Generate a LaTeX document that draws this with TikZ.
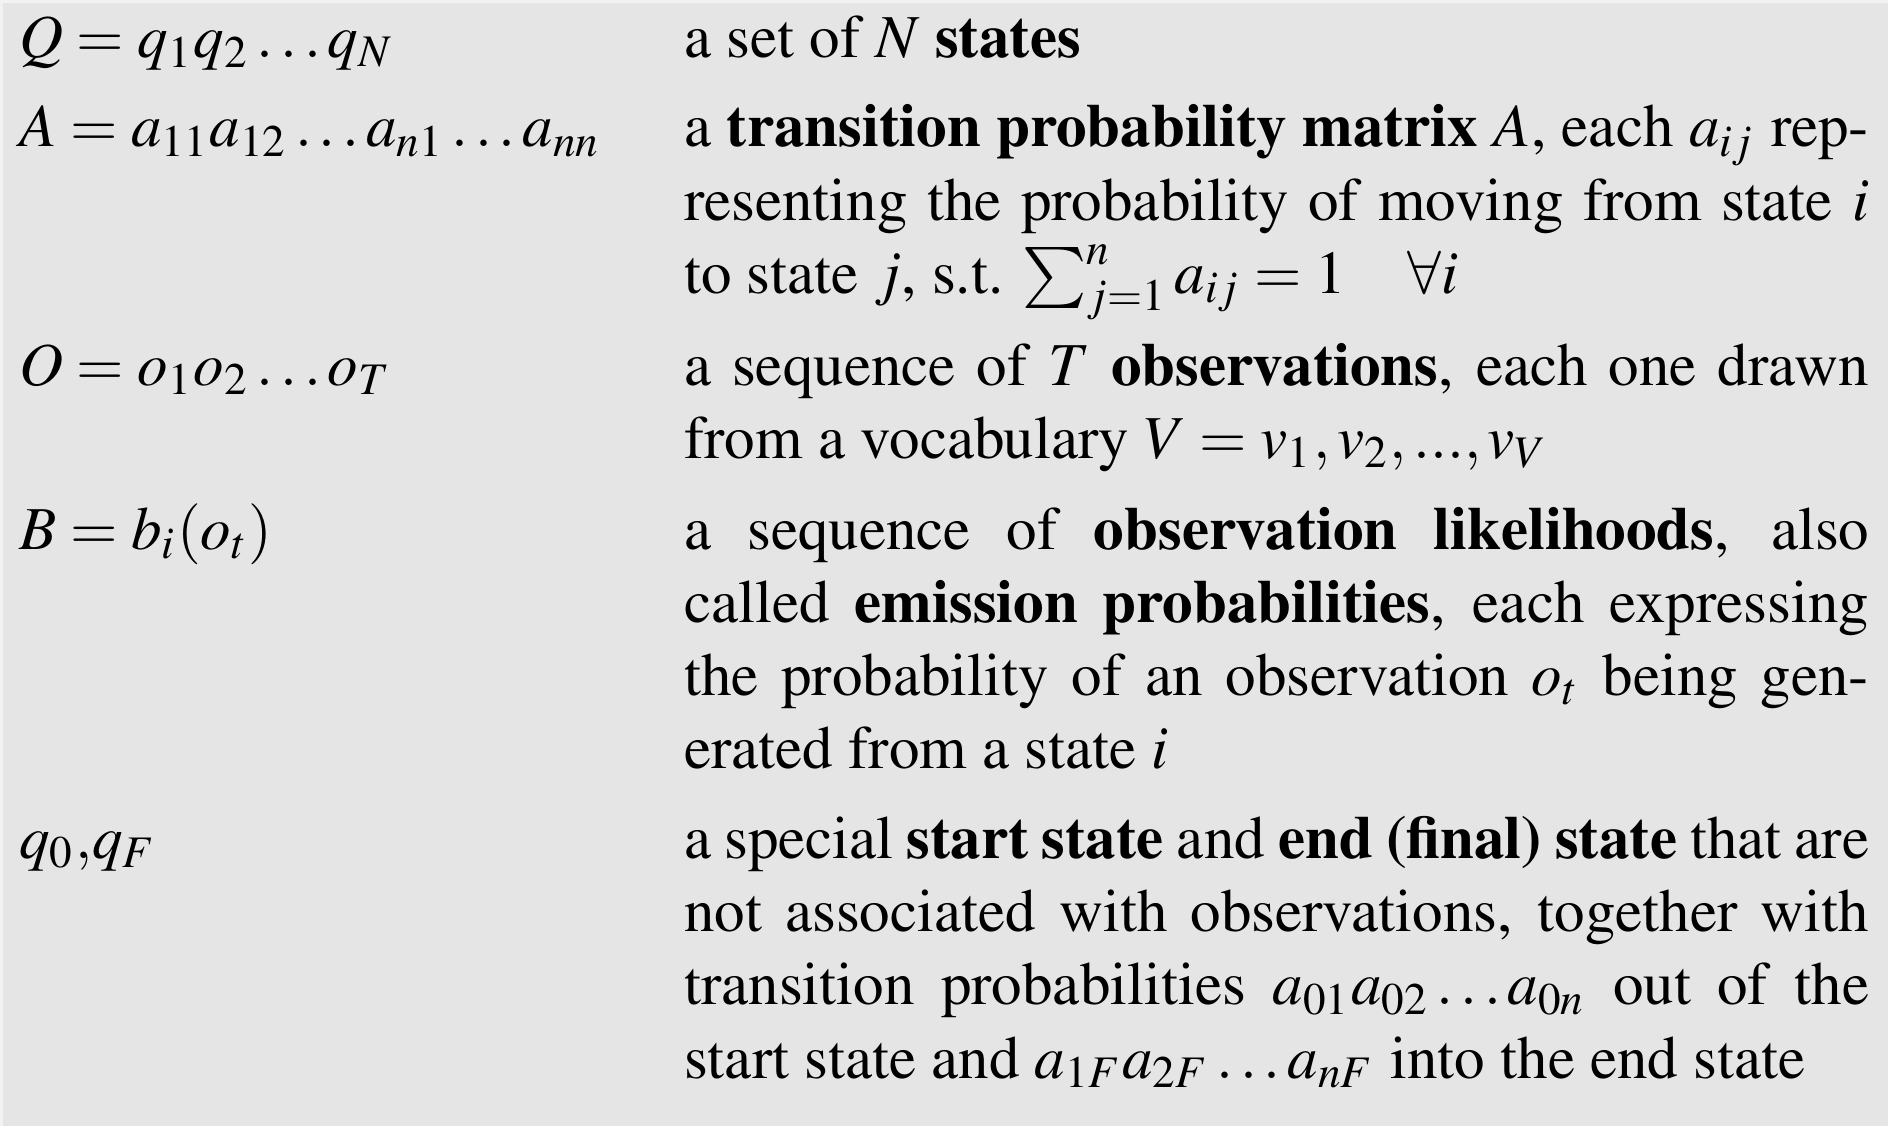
\documentclass[tikz,border=0pt]{standalone}
\usepackage[T1]{fontenc}
\usepackage{mathptmx}
\usepackage{tikz}
\DeclareSymbolFont{cmlargesymbols}{OMX}{cmex}{m}{n}
\DeclareMathSymbol{\cmsum}{\mathop}{cmlargesymbols}{"50}
\definecolor{bggray}{RGB}{229,229,229}
\definecolor{edgegray}{RGB}{242,242,242}
\newlength\descwd
\setlength{\descwd}{194.26pt}
% font spaces (stretchable) instead of the fixed ones of align
\newcommand{\fontspaces}{\spaceskip=0pt\xspaceskip=0pt\relax}
\newcommand{\fullline}[1]{\leavevmode\hbox to\descwd{#1}}
\tikzset{
  term/.style={anchor=base west, inner sep=0pt},
  desc/.style={anchor=base west, inner sep=0pt, text width=\descwd, align=justify}
}

\begin{document}
\begin{tikzpicture}[x=0.16393pt, y=-0.16393pt]
    \useasboundingbox (0,0) rectangle (1888,1126);
    \fill[edgegray] (0,0) rectangle (1888,1126);
    \fill[bggray] (3,3) rectangle (1888,1126);
    % left column
    \node[term] (tQ) at (18,57.8) {$Q=q_1q_2\ldots q_N$};
    \node[term] (tA) at (18,146.9) {$A=a_{11}a_{12}\ldots a_{n1}\ldots a_{nn}$};
    \node[term] (tO) at (18,385) {$O=o_1o_2\ldots o_T$};
    \node[term] (tB) at (18,549) {$B=b_i(o_t)$};
    \node[term] (tq) at (18,858.5) {$q_0{,}q_F$};
    % right column
    \node[desc] (dQ) at (683,57.8) {\fontspaces a set of $N$ \textbf{states}};
    \node[desc] (dA) at (683,146.9) {\fontspaces
        \fullline{a \textbf{transition probability matrix} $A$, each $a_{ij}$ rep-}\\
        \fullline{resenting the probability of moving from state $i$}\\
        to state $j$, s.t. $\cmsum_{j=1}^{n} a_{ij}=1 \quad \forall i$};
    \node[desc] (dO) at (683,385) {\fontspaces
        \fullline{a sequence of $T$ \textbf{observations}, each one drawn}\\
        from a vocabulary $V=v_1,v_2,...,v_V$};
    \node[desc] (dB) at (683,549) {\fontspaces
        \fullline{a sequence of \textbf{observation likelihoods}, also}\\
        \fullline{called \textbf{emission probabilities}, each expressing}\\
        \fullline{the probability of an observation $o_t$ being gen-}\\
        erated from a state $i$};
    \node[desc] (dq) at (683,858.5) {\fontspaces
        \fullline{a special \textbf{start state} and \textbf{end (final) state} that are}\\
        \fullline{not associated with observations, together with}\\
        \fullline{transition probabilities $a_{01}a_{02}\ldots a_{0n}$ out of the}\\
        start state and $a_{1F}a_{2F}\ldots a_{nF}$ into the end state};
\end{tikzpicture}
\end{document}
